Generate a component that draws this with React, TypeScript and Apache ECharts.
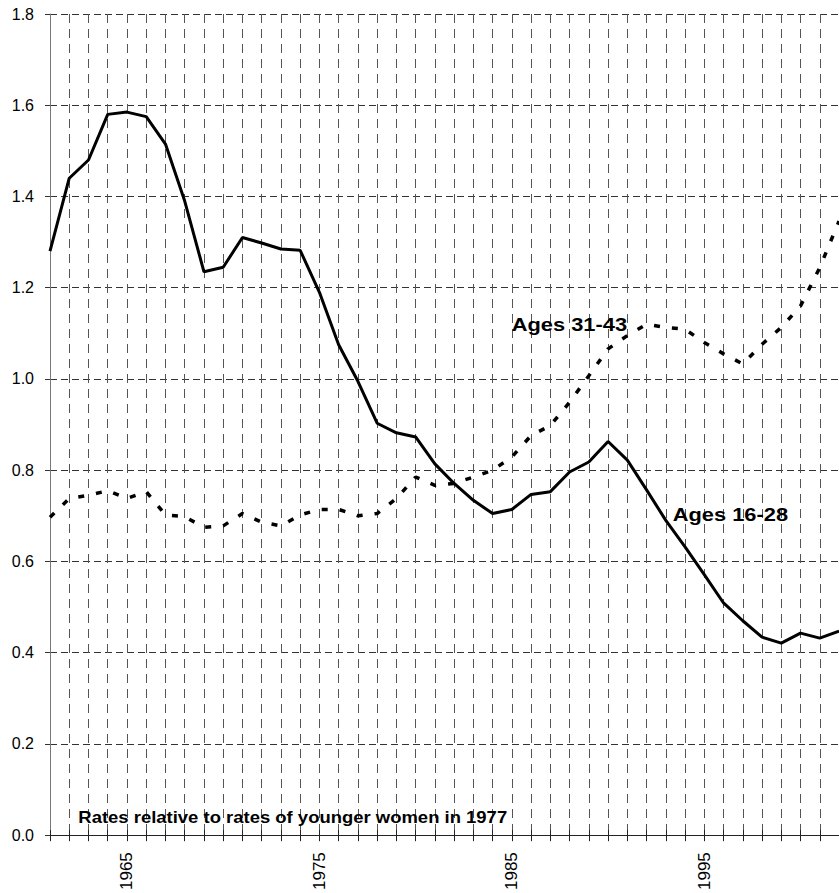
import React, { useEffect, useRef } from "react";
import * as echarts from "echarts";

const years = [
  1961, 1962, 1963, 1964, 1965, 1966, 1967, 1968, 1969, 1970,
  1971, 1972, 1973, 1974, 1975, 1976, 1977, 1978, 1979, 1980,
  1981, 1982, 1983, 1984, 1985, 1986, 1987, 1988, 1989, 1990,
  1991, 1992, 1993, 1994, 1995, 1996, 1997, 1998, 1999, 2000,
  2001, 2002,
];

const ages16to28 = [
  1.28, 1.44, 1.48, 1.58, 1.585, 1.575, 1.515, 1.39, 1.235, 1.245,
  1.31, 1.298, 1.285, 1.282, 1.19, 1.075, 0.995, 0.903, 0.882, 0.873,
  0.814, 0.771, 0.734, 0.705, 0.714, 0.747, 0.753, 0.796, 0.818, 0.863,
  0.822, 0.757, 0.69, 0.632, 0.571, 0.509, 0.47, 0.434, 0.421, 0.443,
  0.432, 0.447,
];

const ages31to43 = [
  0.697, 0.738, 0.745, 0.755, 0.738, 0.753, 0.702, 0.698, 0.675, 0.678,
  0.705, 0.686, 0.678, 0.702, 0.714, 0.714, 0.7, 0.705, 0.738, 0.785,
  0.767, 0.771, 0.785, 0.8, 0.829, 0.876, 0.898, 0.949, 1.007, 1.066,
  1.095, 1.12, 1.113, 1.109, 1.08, 1.055, 1.033, 1.076, 1.113, 1.16,
  1.244, 1.346,
];

const labeledYears = [1965, 1975, 1985, 1995];
const seriesNames = ["Ages 16-28", "Ages 31-43"];
const noteText = "Rates relative to rates of younger women in 1977";
const yMin = 0;
const yMax = 1.8;
const yStep = 0.2;
const xMin = 1961;
const xMax = 2002;

export default function App() {
  const ref = useRef<HTMLDivElement>(null);

  useEffect(() => {
    if (!ref.current) return;
    const chart = echarts.init(ref.current, null, { renderer: "svg" });
    const font = 'Arial, "Liberation Sans", Helvetica, sans-serif';
    const gridTop = 14;
    const gridBottom = 55;
    const gridHeight = 893 - gridTop - gridBottom;

    chart.setOption({
      animation: false,
      backgroundColor: "#ffffff",
      grid: { left: 50, right: 0, top: gridTop, bottom: gridBottom, containLabel: false },
      xAxis: [
        {
          type: "value",
          min: xMin,
          max: xMax,
          interval: 1,
          position: "bottom",
          axisLine: { show: true, onZero: false, lineStyle: { color: "#222", width: 1 } },
          axisTick: { show: true, inside: false, length: 6, lineStyle: { color: "#222", width: 1 } },
          axisLabel: {
            show: true,
            interval: 0,
            rotate: 90,
            margin: 17,
            fontSize: 17,
            color: "#000",
            fontFamily: font,
            formatter: (v: number) => (labeledYears.includes(Math.round(v)) ? String(Math.round(v)) : ""),
          },
          splitLine: { show: true, lineStyle: { color: "#555", type: [9, 6], width: 1 } },
        },
        {
          type: "value",
          min: xMin,
          max: xMax,
          interval: 1,
          position: "top",
          offset: -gridHeight,
          axisLine: { show: false, onZero: false },
          axisTick: { show: true, inside: false, length: 8, lineStyle: { color: "#222", width: 1 } },
          axisLabel: { show: false },
          splitLine: { show: false },
        },
      ],
      yAxis: {
        type: "value",
        min: yMin,
        max: yMax,
        interval: yStep,
        axisLine: { show: true, onZero: false, lineStyle: { color: "#777", width: 1 } },
        axisTick: { show: true, inside: false, length: 5, lineStyle: { color: "#333" } },
        axisLabel: {
          margin: 16,
          fontSize: 16,
          color: "#000",
          fontFamily: font,
          formatter: (v: number) => v.toFixed(1),
        },
        splitLine: { show: true, lineStyle: { color: "#333", type: [7, 4], width: 1 } },
      },
      series: [
        {
          type: "line",
          name: seriesNames[0],
          xAxisIndex: 0,
          data: years.map((y, i) => [y, ages16to28[i]]),
          symbol: "none",
          showSymbol: false,
          lineStyle: { color: "#000", width: 3 },
          z: 3,
        },
        {
          type: "line",
          name: seriesNames[1],
          xAxisIndex: 0,
          data: years.map((y, i) => [y, ages31to43[i]]),
          symbol: "none",
          showSymbol: false,
          lineStyle: { color: "#000", width: 3.5, type: [6, 12], cap: "butt" },
          z: 3,
        },
      ],
      graphic: [
        {
          type: "text",
          x: 511.7,
          y: 324,
          scaleX: 1.15,
          z: 10,
          style: {
            text: seriesNames[1],
            font: `bold 19px ${font}`,
            fill: "#000",
            align: "left",
            verticalAlign: "middle",
          },
        },
        {
          type: "text",
          x: 672.7,
          y: 513.7,
          scaleX: 1.15,
          z: 10,
          style: {
            text: seriesNames[0],
            font: `bold 19px ${font}`,
            fill: "#000",
            align: "left",
            verticalAlign: "middle",
          },
        },
        {
          type: "text",
          x: 78.3,
          y: 817.8,
          scaleX: 1.12,
          z: 10,
          style: {
            text: noteText,
            font: `bold 16.5px ${font}`,
            fill: "#000",
            align: "left",
            verticalAlign: "middle",
          },
        },
      ],
    });

    return () => {
      chart.dispose();
    };
  }, []);

  return (
    <div
      ref={ref}
      style={{ position: "fixed", left: 0, top: 0, width: 839, height: 893, background: "#fff" }}
    />
  );
}
